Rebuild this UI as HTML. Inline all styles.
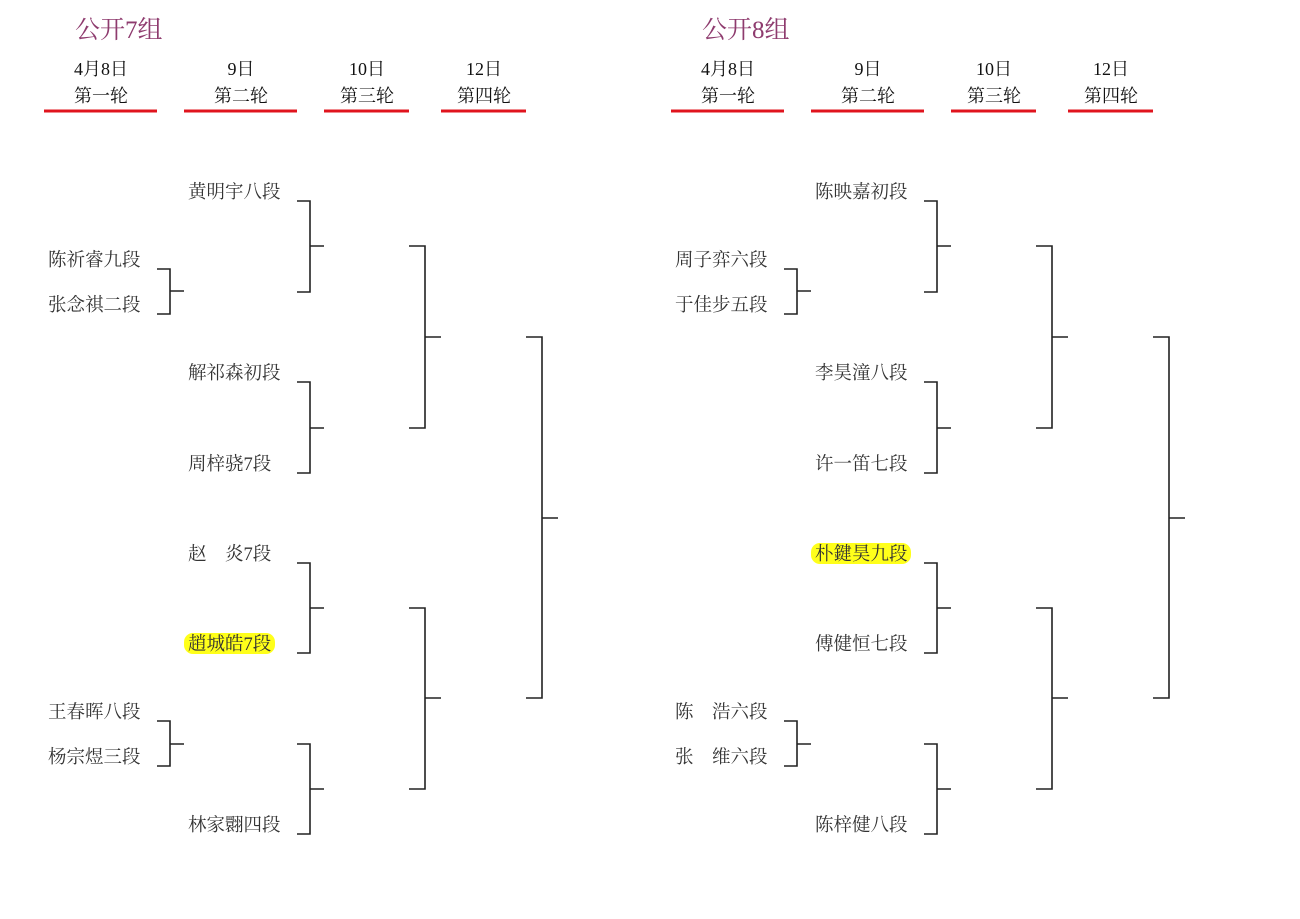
<!DOCTYPE html>
<html><head><meta charset="utf-8"><style>
html,body{margin:0;padding:0;background:#fff;}
svg{display:block;}
text{font-family:"Liberation Serif","Noto Serif CJK SC",serif;fill:#222;}
.t{font-size:25px;fill:#8e3b6e;}
.h{font-size:18px;text-anchor:middle;fill:#111;}
.n{font-size:18.5px;fill:#333;}
.r{stroke:#e0141e;stroke-width:3;}
.b{stroke:#222;stroke-width:1.6;fill:none;}
</style></head><body>
<svg width="1300" height="919" viewBox="0 0 1300 919">
<defs>
<g id="frame">
  <text class="h" x="101" y="75">4月8日</text><text class="h" x="101" y="102">第一轮</text>
  <text class="h" x="241" y="75">9日</text><text class="h" x="241" y="102">第二轮</text>
  <text class="h" x="367" y="75">10日</text><text class="h" x="367" y="102">第三轮</text>
  <text class="h" x="484" y="75">12日</text><text class="h" x="484" y="102">第四轮</text>
  <line class="r" x1="44" y1="111" x2="157" y2="111"/>
  <line class="r" x1="184" y1="111" x2="297" y2="111"/>
  <line class="r" x1="324" y1="111" x2="409" y2="111"/>
  <line class="r" x1="441" y1="111" x2="526" y2="111"/>
  <path class="b" d="M157 269H170V314H157M170 291H184"/>
  <path class="b" d="M157 721H170V766H157M170 744H184"/>
  <path class="b" d="M297 201H310V292H297M310 246H324"/>
  <path class="b" d="M297 382H310V473H297M310 428H324"/>
  <path class="b" d="M297 563H310V653H297M310 608H324"/>
  <path class="b" d="M297 744H310V834H297M310 789H324"/>
  <path class="b" d="M409 246H425V428H409M425 337H441"/>
  <path class="b" d="M409 608H425V789H409M425 698H441"/>
  <path class="b" d="M526 337H542V698H526M542 518H558"/>
</g>
</defs>
<use href="#frame"/>
<use href="#frame" x="627"/>
<text class="t" x="75" y="38">公开7组</text>
<text class="t" x="702" y="38">公开8组</text>
<rect x="184" y="633" width="91" height="21" rx="9" fill="#ffff1a"/>
<rect x="811" y="543" width="100" height="21" rx="9" fill="#ffff1a"/>
<g class="n">
<text class="n" x="188" y="198">黄明宇八段</text>
<text class="n" x="48" y="266">陈祈睿九段</text>
<text class="n" x="48" y="311">张念祺二段</text>
<text class="n" x="188" y="379">解祁森初段</text>
<text class="n" x="188" y="470">周梓骁7段</text>
<text class="n" x="188" y="560">赵　炎7段</text>
<text class="n" x="188" y="650">趙城皓7段</text>
<text class="n" x="48" y="718">王春晖八段</text>
<text class="n" x="48" y="763">杨宗煜三段</text>
<text class="n" x="188" y="831">林家翾四段</text>

<text class="n" x="815" y="198">陈映嘉初段</text>
<text class="n" x="675" y="266">周子弈六段</text>
<text class="n" x="675" y="311">于佳步五段</text>
<text class="n" x="815" y="379">李昊潼八段</text>
<text class="n" x="815" y="470">许一笛七段</text>
<text class="n" x="815" y="560">朴鍵昊九段</text>
<text class="n" x="815" y="650">傅健恒七段</text>
<text class="n" x="675" y="718">陈　浩六段</text>
<text class="n" x="675" y="763">张　维六段</text>
<text class="n" x="815" y="831">陈梓健八段</text>
</g>
</svg>
</body></html>
